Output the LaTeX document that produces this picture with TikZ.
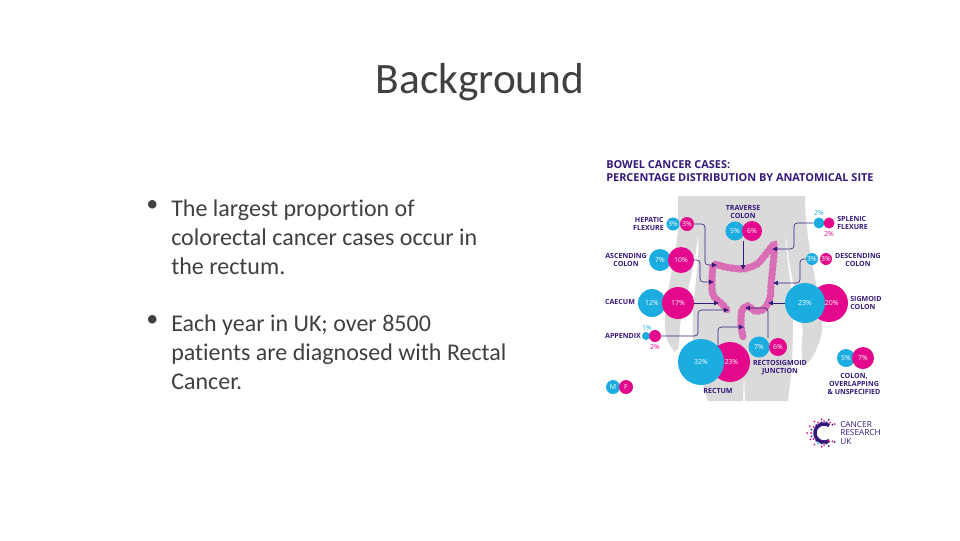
\documentclass[tikz,border=0pt]{standalone}
\usepackage{fontspec}
\setmainfont[Ligatures=NoCommon]{Carlito}
\newfontfamily\infofont{Open Sans}
\usetikzlibrary{arrows, arrows.meta, positioning}
\definecolor{slidetext}{HTML}{404040}
\definecolor{infopurple}{HTML}{35197A}
\definecolor{malecol}{HTML}{1CADE0}
\definecolor{femalecol}{HTML}{E4088C}
\definecolor{colonpink}{HTML}{D96DB6}
\definecolor{bodygrey}{HTML}{DADADA}
\tikzset{
	male/.style={circle, fill=malecol, inner sep=0pt, text=white, font=\infofont\fontsize{5.2}{6}\selectfont},
	female/.style={circle, fill=femalecol, inner sep=0pt, text=white, font=\infofont\fontsize{5.2}{6}\selectfont},
	sitelabel/.style={align=center, text=infopurple, inner sep=0pt, font=\infofont\bfseries\fontsize{5.3}{5.9}\selectfont},
	siteline/.style={draw=infopurple, line width=0.45pt, rounded corners=2.5pt, -{Latex[length=3.6pt,width=3.6pt]}},
	bodytext/.style={anchor=north west, align=left, inner sep=0pt, text=slidetext, font=\fontsize{18}{21.75}\selectfont}
}
\begin{document}
\begin{tikzpicture}[x=0.75pt, y=-0.75pt]
	\useasboundingbox (0,0) rectangle (960,540);
	\node (title)[text=slidetext, font=\fontsize{32.5}{38}\selectfont] at (480, 82) {Background};
	\node (bullet1)[bodytext] at (146, 200) {\textbullet};
	\node (text1)[bodytext] at (171, 200) {The largest proportion of\\colorectal cancer cases occur in\\the rectum.};
	\node (bullet2)[bodytext] at (146, 315) {\textbullet};
	\node (text2)[bodytext] at (171, 315) {Each year in UK; over 8500\\patients are diagnosed with Rectal\\Cancer.};
	% infographic heading
	\node (heading)[anchor=north west, align=left, inner sep=0pt, text=infopurple, font=\infofont\bfseries\fontsize{8.2}{9.75}\selectfont] at (606, 160) {BOWEL CANCER CASES:\\PERCENTAGE DISTRIBUTION BY ANATOMICAL SITE};
	% body outline
	\fill[bodygrey] (678,196) -- (805,196) .. controls (805,230) and (812,260) .. (817,290)
		.. controls (822,315) and (825,330) .. (818,345) .. controls (815,355) and (808,365) .. (804,364)
		.. controls (800,355) and (802,340) .. (803,330) .. controls (798,300) and (786,260) .. (785,222)
		.. controls (785,260) and (794,290) .. (793,320) .. controls (793,350) and (792,370) .. (788,401)
		-- (745,401) -- (744,372) -- (743,401) -- (708,401) .. controls (702,380) and (690,350) .. (693,320)
		.. controls (693,290) and (700,265) .. (698,233) .. controls (696,265) and (684,300) .. (680,325)
		.. controls (679,340) and (680,350) .. (675,352) .. controls (668,345) and (664,335) .. (665,320)
		.. controls (666,290) and (678,250) .. (678,225) -- cycle;
	% colon
	\draw[colonpink, line width=4.8pt, line join=round, line cap=round] plot[smooth, tension=0.5] coordinates {(727,310) (722,304) (713,295) (712,280) (714,265) (725,267) (743,269) (757,264) (766,254) (774,245) (773,265) (771,285) (770,298) (764,309) (755,311) (748,306) (742,310) (741,325) (743,337)};
	\draw[colonpink, line width=5.4pt, dash pattern=on 1.8pt off 1.4pt] plot[smooth, tension=0.5] coordinates {(727,310) (722,304) (713,295) (712,280) (714,265) (725,267) (743,269) (757,264) (766,254) (774,245) (773,265) (771,285) (770,298) (764,309) (755,311) (748,306) (742,310) (741,325) (743,337)};
	% circles, one pair per site
	\node (hepM)[male, minimum size=9.8pt] at (673, 224) {3\%};
	\node (hepF)[female, minimum size=10.5pt] at (687, 224) {3\%};
	\node (travM)[male, minimum size=14.3pt] at (735, 231) {5\%};
	\node (travF)[female, minimum size=15pt] at (752, 231) {6\%};
	\node (splM)[male, minimum size=8.3pt] at (819, 223) {};
	\node (splF)[female, minimum size=8.3pt] at (829, 223) {};
	\node (ascM)[male, minimum size=16.5pt] at (660, 260) {7\%};
	\node (ascF)[female, minimum size=19.5pt] at (681, 260) {10\%};
	\node (desM)[male, minimum size=9pt] at (812, 259) {3\%};
	\node (desF)[female, minimum size=9pt] at (826, 259) {3\%};
	\node (caeM)[male, minimum size=21pt] at (652, 303) {12\%};
	\node (caeF)[female, minimum size=24pt] at (678, 303) {17\%};
	\node (sigF)[female, minimum size=28.5pt] at (829, 303) {\hspace{4pt}20\%};
	\node (sigM)[male, minimum size=30pt] at (805, 303) {23\%};
	\node (appM)[male, minimum size=6pt] at (646, 336) {};
	\node (appF)[female, minimum size=9pt] at (655, 336) {};
	\node (recF)[female, minimum size=30pt] at (730, 362) {\hspace{2pt}23\%};
	\node (recM)[male, minimum size=34.5pt] at (701, 362) {32\%};
	\node (rsM)[male, minimum size=15.8pt] at (759, 347) {7\%};
	\node (rsF)[female, minimum size=13.5pt] at (778, 347) {6\%};
	\node (ovlM)[male, minimum size=13.5pt] at (846, 358) {5\%};
	\node (ovlF)[female, minimum size=16.5pt] at (863, 358) {7\%};
	\node (keyM)[male, minimum size=10.5pt] at (613, 387) {M};
	\node (keyF)[female, minimum size=10.5pt] at (626, 387) {F};
	% outer percentages
	\node (splTop)[inner sep=0pt, text=malecol, font=\infofont\fontsize{5.2}{6}\selectfont] at (819, 213) {2\%};
	\node (splLow)[inner sep=0pt, text=femalecol, font=\infofont\fontsize{5.2}{6}\selectfont] at (829, 234) {2\%};
	\node (appTop)[inner sep=0pt, text=malecol, font=\infofont\fontsize{5.2}{6}\selectfont] at (647, 328) {1\%};
	\node (appLow)[inner sep=0pt, text=femalecol, font=\infofont\fontsize{5.2}{6}\selectfont] at (655, 347) {2\%};
	% site labels
	\node (hepL)[sitelabel, align=right, anchor=east] at (664, 224) {HEPATIC\\FLEXURE};
	\node (travL)[sitelabel] at (743, 212) {TRAVERSE\\COLON};
	\node (splL)[sitelabel, align=left, anchor=west] at (837, 223) {SPLENIC\\FLEXURE};
	\node (ascL)[sitelabel] at (626, 260) {ASCENDING\\COLON};
	\node (desL)[sitelabel] at (858, 260) {DESCENDING\\COLON};
	\node (caeL)[sitelabel] at (620, 302) {CAECUM};
	\node (sigL)[sitelabel, align=left, anchor=west] at (850, 303) {SIGMOID\\COLON};
	\node (appL)[sitelabel] at (623, 336) {APPENDIX};
	\node (recL)[sitelabel] at (718, 391) {RECTUM};
	\node (rsL)[sitelabel] at (780, 368) {RECTOSIGMOID\\JUNCTION};
	\node (ovlL)[sitelabel] at (854, 384) {COLON,\\OVERLAPPING\\\& UNSPECIFIED};
	% arrow ends on the colon
	\coordinate (hepEnd) at (717, 265);
	\coordinate (hepMid) at (705, 245);
	\coordinate (travEnd) at (743, 270);
	\coordinate (splEnd) at (772, 249);
	\coordinate (splMid) at (794, 236);
	\coordinate (ascEnd) at (714, 282);
	\coordinate (ascMid) at (700, 270);
	\coordinate (desEnd) at (773, 283);
	\coordinate (desMid) at (800, 270);
	\coordinate (caeEnd) at (719, 303);
	\coordinate (appEnd) at (729, 310);
	\coordinate (appMid) at (698, 322);
	\coordinate (recEnd) at (744, 327);
	\coordinate (recStart) at (718, 347);
	\coordinate (rsEnd) at (745, 308);
	\coordinate (rsStart) at (768, 338);
	\coordinate (sigEnd) at (768, 303);
	\draw[siteline] (hepF.east) -| (hepMid) |- (hepEnd);
	\draw[siteline] (travM.south -| travEnd) -- (travEnd);
	\draw[siteline] (splM.west) -| (splMid) |- (splEnd);
	\draw[siteline] (ascF.east) -| (ascMid) |- (ascEnd);
	\draw[siteline] (desM.west) -| (desMid) |- (desEnd);
	\draw[siteline] (caeF.east) -- (caeEnd);
	\draw[siteline] (appF.east) -| (appMid) |- (appEnd);
	\draw[siteline] (recStart) |- (recEnd);
	\draw[siteline] (rsStart) |- (rsEnd);
	\draw[siteline] (sigM.west) -- (sigEnd);
	% charity logo
	\draw[infopurple, line width=2.6pt] plot[smooth, domain=55:305, samples=30] ({824+9*cos(\x)}, {433-9*sin(\x)});
	\foreach \ang/\rad/\col in {60/9/femalecol, 75/11/infopurple, 90/12/femalecol, 105/11/infopurple, 120/12/malecol, 135/11/infopurple, 150/12/femalecol, 165/13/infopurple, 180/13/femalecol, 195/13/infopurple, 210/12/femalecol, 225/11/infopurple, 240/12/femalecol, 255/11/infopurple, 270/12/femalecol, 285/11/infopurple, 300/12/femalecol, 45/12/femalecol, 70/14/infopurple, 100/14/femalecol, 130/15/femalecol, 155/15/femalecol, 180/17/femalecol, 205/16/femalecol, 230/15/femalecol, 260/14/femalecol, 290/14/infopurple, 315/12/infopurple, 40/14/infopurple, 320/14/femalecol}
		\fill[\col] (824,433) ++(\ang:\rad) circle (1);
	\node (logotext)[anchor=west, align=left, inner sep=0pt, text=infopurple, font=\infofont\fontsize{6.2}{6.2}\selectfont] at (840, 433) {CANCER\\RESEARCH\\UK};
\end{tikzpicture}
\end{document}
